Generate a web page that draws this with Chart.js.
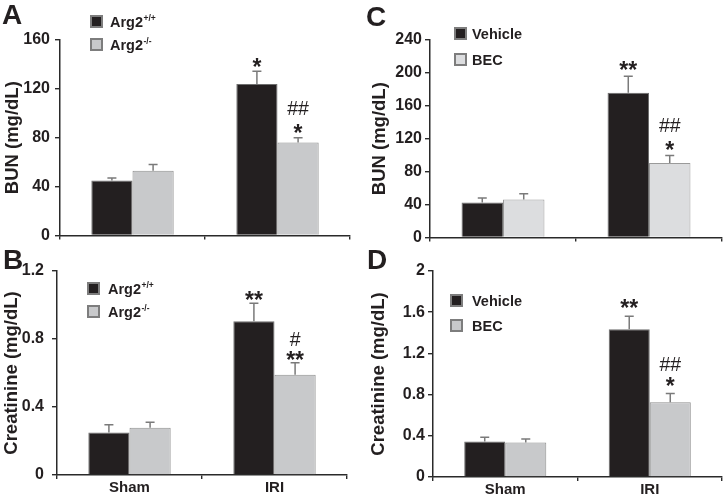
<!DOCTYPE html>
<html><head><meta charset="utf-8">
<script src="https://cdn.jsdelivr.net/npm/chart.js@4.4.1/dist/chart.umd.min.js"></script>
<style>
html,body{margin:0;padding:0;background:#fff;}
#wrap{position:relative;width:724px;height:499px;overflow:hidden;background:#fff;}
canvas{position:absolute;display:block;}
</style></head><body>
<div id="wrap">
<canvas id="cA" width="362" height="250" style="left:0;top:0;width:362px;height:250px"></canvas>
<canvas id="cC" width="362" height="250" style="left:362px;top:0;width:362px;height:250px"></canvas>
<canvas id="cB" width="362" height="249" style="left:0;top:250px;width:362px;height:249px"></canvas>
<canvas id="cD" width="362" height="249" style="left:362px;top:250px;width:362px;height:249px"></canvas>
</div>
<script>
// ---------- data ----------
const categories = ['Sham', 'IRI'];

const namesArg = ['Arg2', 'Arg2'];
const supArg = ['+/+', '-/-'];
const namesBEC = ['Vehicle', 'BEC'];

// Panel A: BUN, Arg2 genotypes
const bunWT = [45, 124];
const bunWTsem = [2, 10.5];
const bunKO = [53, 76];
const bunKOsem = [5, 4];
const starsA_WT = ['', '*'];
const starsA_KO = ['', '*'];
const hashA_KO = ['', '##'];
const ticksA = [0, 40, 80, 120, 160];

// Panel B: Creatinine, Arg2 genotypes
const creWT = [0.25, 0.905];
const creWTsem = [0.045, 0.105];
const creKO = [0.278, 0.59];
const creKOsem = [0.033, 0.07];
const starsB_WT = ['', '**'];
const starsB_KO = ['', '**'];
const hashB_KO = ['', '#'];
const ticksB = [0, 0.4, 0.8, 1.2];

// Panel C: BUN, Vehicle vs BEC
const bunVeh = [42.5, 176];
const bunVehSem = [5.5, 20];
const bunBEC = [46, 90.5];
const bunBECsem = [7, 9];
const starsC_Veh = ['', '**'];
const starsC_BEC = ['', '*'];
const hashC_BEC = ['', '##'];
const ticksC = [0, 40, 80, 120, 160, 200, 240];

// Panel D: Creatinine, Vehicle vs BEC
const creVeh = [0.345, 1.435];
const creVehSem = [0.04, 0.125];
const creBEC = [0.335, 0.725];
const creBECsem = [0.035, 0.085];
const starsD_Veh = ['', '**'];
const starsD_BEC = ['', '*'];
const hashD_BEC = ['', '##'];
const ticksD = [0, 0.4, 0.8, 1.2, 1.6, 2];

// ---------- drawing ----------
const FONT = '"Liberation Sans", Arial, Helvetica, sans-serif';
const INK = '#231f20';
const BLACK = '#231f20';
const GREY = '#c8c9cb';
const LIGHTGREY = '#dcdddf';

const panelPlugin = {
  id: 'panelExtras',
  afterDatasetsDraw(chart) {
    const cfg = chart.options.plugins.panelExtras;
    const ctx = chart.ctx;
    const y = chart.scales.y;
    ctx.save();
    // error bars + annotations
    chart.data.datasets.forEach((ds, di) => {
      const meta = chart.getDatasetMeta(di);
      meta.data.forEach((bar, i) => {
        const top = y.getPixelForValue(ds.data[i] + ds.sem[i]);
        ctx.strokeStyle = '#7a7a7a';
        ctx.lineWidth = 1.5;
        ctx.beginPath();
        ctx.moveTo(bar.x, bar.y);
        ctx.lineTo(bar.x, top);
        ctx.moveTo(bar.x - 4.5, top);
        ctx.lineTo(bar.x + 4.5, top);
        ctx.stroke();
        ctx.fillStyle = INK;
        ctx.textAlign = 'center';
        ctx.textBaseline = 'alphabetic';
        const st = ds.stars[i];
        if (st) {
          ctx.font = 'bold 23px ' + FONT;
          ctx.fillText(st, bar.x, top + cfg.starGap + 13);
        }
        const hs = ds.hashes ? ds.hashes[i] : '';
        if (hs) {
          ctx.font = '19.5px ' + FONT;
          ctx.fillText(hs, bar.x, top + cfg.hashGap + 7);
        }
      });
    });
    // legend
    chart.data.datasets.forEach((ds, di) => {
      const bx = cfg.legendX, by = cfg.legendY + di * cfg.legendGap;
      ctx.fillStyle = ds.backgroundColor;
      ctx.fillRect(bx, by, 13, 13);
      ctx.strokeStyle = '#7d7d7d';
      ctx.lineWidth = 2;
      ctx.strokeRect(bx + 1, by + 1, 11, 11);
      ctx.fillStyle = INK;
      ctx.textAlign = 'left';
      ctx.textBaseline = 'alphabetic';
      ctx.font = 'bold 14.5px ' + FONT;
      const tx = cfg.legendX + cfg.legendTextDx;
      const base = by + 12;
      ctx.fillText(ds.name, tx, base);
      if (ds.sup) {
        const w = ctx.measureText(ds.name).width;
        ctx.font = 'bold 8.5px ' + FONT;
        ctx.fillText(ds.sup, tx + w + 0.5, base - 6);
      }
    });
    // panel letter
    ctx.font = 'bold 28px ' + FONT;
    ctx.textAlign = 'left';
    ctx.textBaseline = 'alphabetic';
    ctx.fillStyle = INK;
    ctx.fillText(cfg.letter, cfg.letterX, cfg.letterY);
    ctx.restore();
  }
};

function makePanel(id, p) {
  return new Chart(document.getElementById(id), {
    type: 'bar',
    data: {
      labels: categories,
      datasets: p.series.map(s => ({
        label: s.name + (s.sup || ''),
        name: s.name, sup: s.sup,
        data: s.data, sem: s.sem, stars: s.stars, hashes: s.hashes,
        backgroundColor: s.color,
        borderColor: s.border,
        borderWidth: 1,
        categoryPercentage: 0.568,
        barPercentage: 1.0
      }))
    },
    options: {
      responsive: false,
      animation: false,
      devicePixelRatio: 1,
      layout: { padding: { top: p.padTop, right: p.padRight, left: 0, bottom: 0 } },
      plugins: {
        legend: { display: false },
        tooltip: { enabled: false },
        panelExtras: p
      },
      scales: {
        x: {
          grid: { display: true, drawOnChartArea: false, drawTicks: true, tickLength: 4, color: '#2a2a2a', lineWidth: 1.4, offset: true },
          border: { display: true, color: '#2a2a2a', width: 1.5 },
          ticks: { display: p.showX, padding: 0, color: INK, font: { family: FONT, size: 15, weight: 'bold' } },
          afterFit(s) { s.height = p.xHeight; }
        },
        y: {
          min: 0,
          max: p.ticks[p.ticks.length - 1],
          afterBuildTicks(s) { s.ticks = p.ticks.map(v => ({ value: v })); },
          ticks: { padding: p.tickPad, color: INK, font: { family: FONT, size: 16, weight: 'bold' }, callback: v => String(v) },
          grid: { drawOnChartArea: false, drawTicks: true, tickLength: 5, color: '#2a2a2a', lineWidth: 1.4 },
          border: { display: true, color: '#2a2a2a', width: 1.5 },
          title: { display: true, text: p.yTitle, color: INK, font: { family: FONT, size: 18.5, weight: 'bold' }, padding: { top: p.titlePad, bottom: 0 } },
          afterFit(s) { s.width = p.yWidth; }
        }
      }
    },
    plugins: [panelPlugin]
  });
}

makePanel('cA', {
  series: [
    { name: namesArg[0], sup: supArg[0], data: bunWT, sem: bunWTsem, stars: starsA_WT, hashes: null, color: BLACK, border: '#6e6e6e' },
    { name: namesArg[1], sup: supArg[1], data: bunKO, sem: bunKOsem, stars: starsA_KO, hashes: hashA_KO, color: GREY, border: '#8e8e8e' }
  ],
  ticks: ticksA, yTitle: 'BUN (mg/dL)', showX: false,
  yWidth: 60, xHeight: 14, padTop: 40, padRight: 12, titlePad: 2, tickPad: 5,
  letter: 'A', letterX: 2, letterY: 24,
  legendX: 90, legendY: 15, legendGap: 23, legendTextDx: 20,
  starGap: -9.5, hashGap: -30
});

makePanel('cC', {
  series: [
    { name: namesBEC[0], data: bunVeh, sem: bunVehSem, stars: starsC_Veh, hashes: null, color: BLACK, border: '#6e6e6e' },
    { name: namesBEC[1], data: bunBEC, sem: bunBECsem, stars: starsC_BEC, hashes: hashC_BEC, color: LIGHTGREY, border: '#9a9a9a' }
  ],
  ticks: ticksC, yTitle: 'BUN (mg/dL)', showX: false,
  yWidth: 68, xHeight: 12, padTop: 40, padRight: 2, titlePad: 7, tickPad: 3,
  letter: 'C', letterX: 4, letterY: 26,
  legendX: 92, legendY: 27, legendGap: 26, legendTextDx: 18,
  starGap: -11, hashGap: -31
});

makePanel('cB', {
  series: [
    { name: namesArg[0], sup: supArg[0], data: creWT, sem: creWTsem, stars: starsB_WT, hashes: null, color: BLACK, border: '#6e6e6e' },
    { name: namesArg[1], sup: supArg[1], data: creKO, sem: creKOsem, stars: starsB_KO, hashes: hashB_KO, color: GREY, border: '#8e8e8e' }
  ],
  ticks: ticksB, yTitle: 'Creatinine (mg/dL)', showX: true,
  yWidth: 57, xHeight: 24, padTop: 21, padRight: 15, titlePad: 1, tickPad: 8,
  letter: 'B', letterX: 3, letterY: 19,
  legendX: 87, legendY: 32, legendGap: 23, legendTextDx: 21,
  starGap: -8, hashGap: -24
});

makePanel('cD', {
  series: [
    { name: namesBEC[0], data: creVeh, sem: creVehSem, stars: starsD_Veh, hashes: null, color: BLACK, border: '#6e6e6e' },
    { name: namesBEC[1], data: creBEC, sem: creBECsem, stars: starsD_BEC, hashes: hashD_BEC, color: GREY, border: '#8e8e8e' }
  ],
  ticks: ticksD, yTitle: 'Creatinine (mg/dL)', showX: true,
  yWidth: 71, xHeight: 22, padTop: 21, padRight: 2, titlePad: 6, tickPad: 3,
  letter: 'D', letterX: 5, letterY: 19,
  legendX: 88, legendY: 44, legendGap: 25, legendTextDx: 22,
  starGap: -13, hashGap: -30
});
</script>
</body></html>
